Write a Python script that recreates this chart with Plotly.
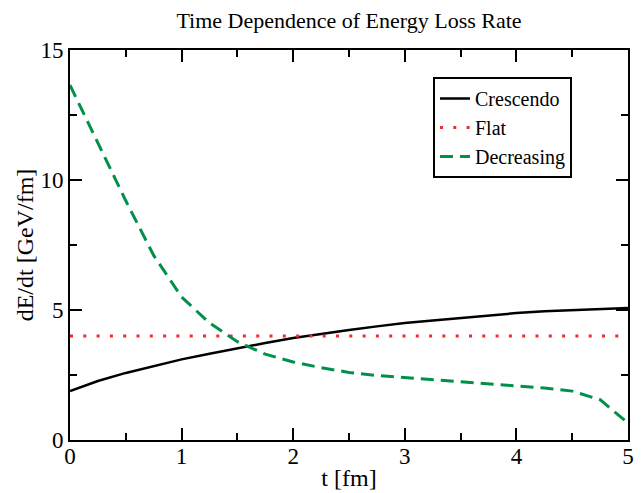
import plotly.graph_objects as go

# Time grid [fm]
t = [0.0, 0.25, 0.5, 0.75, 1.0, 1.25, 1.5, 1.75, 2.0, 2.25, 2.5, 2.75,
     3.0, 3.25, 3.5, 3.75, 4.0, 4.25, 4.5, 4.75, 5.0]

# Energy loss rates dE/dt [GeV/fm]
crescendo = [1.88, 2.27, 2.58, 2.85, 3.10, 3.32, 3.53, 3.73, 3.92, 4.08, 4.23,
             4.37, 4.50, 4.60, 4.70, 4.79, 4.88, 4.95, 5.00, 5.05, 5.08]
flat = [4.0] * len(t)
decreasing = [13.65, 11.4, 9.2, 7.1, 5.5, 4.5, 3.78, 3.3, 3.0, 2.78, 2.6,
              2.48, 2.4, 2.33, 2.25, 2.17, 2.08, 2.0, 1.88, 1.55, 0.65]

FONT = "Liberation Serif, Times New Roman, Times, serif"

fig = go.Figure()
fig.add_trace(go.Scatter(x=t, y=crescendo, mode="lines", name="Crescendo",
                         line=dict(color="black", width=2.5)))
fig.add_trace(go.Scatter(x=t, y=flat, mode="lines", name="Flat",
                         line=dict(color="#f52a2a", width=3, dash="3px,10.3px")))
fig.add_trace(go.Scatter(x=t, y=decreasing, mode="lines", name="Decreasing",
                         line=dict(color="#00904a", width=3, dash="13px,7px")))

axis_common = dict(
    showline=True, linecolor="black", linewidth=2, mirror="ticks",
    ticks="inside", ticklen=12, tickwidth=2, tickcolor="black",
    showgrid=False, zeroline=False, automargin=False,
    tickfont=dict(family=FONT, size=23, color="black"),
)

fig.update_layout(
    width=643, height=493,
    margin=dict(l=70, r=15, t=50, b=53),
    paper_bgcolor="white", plot_bgcolor="white",
    font=dict(family=FONT, color="black"),
    title=dict(text="Time Dependence of Energy Loss Rate",
               x=(70 + 628) / 2 / 643, xanchor="center",
               y=1 - 20 / 493, yanchor="middle",
               font=dict(family=FONT, size=22, color="black")),
    xaxis=dict(range=[0, 5], dtick=1, tick0=0, ticklabelstandoff=-6,
               minor=dict(dtick=0.5, ticks="inside", ticklen=7, tickwidth=2,
                          tickcolor="black", showgrid=False),
               title=dict(text="t [fm]", standoff=2,
                          font=dict(family=FONT, size=24, color="black")),
               **axis_common),
    yaxis=dict(range=[0, 15], dtick=5, tick0=0,
               minor=dict(dtick=2.5, ticks="inside", ticklen=7, tickwidth=2,
                          tickcolor="black", showgrid=False),
               title=dict(text="dE/dt [GeV/fm]", standoff=0,
                          font=dict(family=FONT, size=24, color="black")),
               **axis_common),
    legend=dict(x=(433 - 70) / 558, y=(440 - 77) / 390,
                xanchor="left", yanchor="top",
                bgcolor="white", bordercolor="black", borderwidth=2,
                font=dict(family=FONT, size=20, color="black"),
                itemwidth=30, tracegroupgap=0),
    showlegend=True,
)

fig.write_html("out.html")
